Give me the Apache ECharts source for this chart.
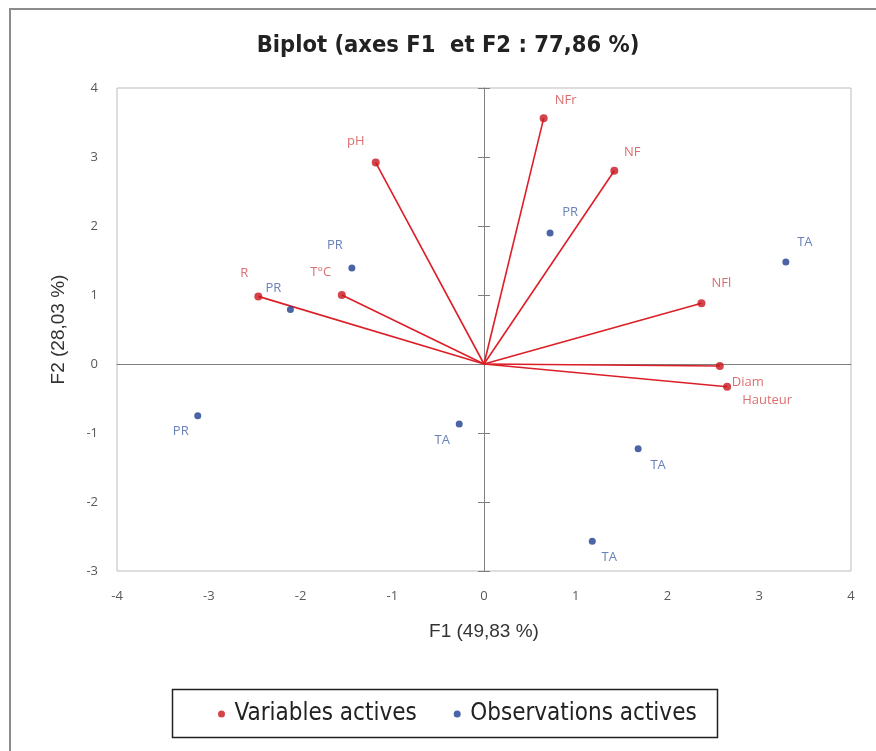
<!DOCTYPE html>
<html>
<head>
<meta charset="utf-8">
<script src="https://cdn.jsdelivr.net/npm/echarts@6/dist/echarts.min.js"></script>
<style>
html,body{margin:0;padding:0;background:#fff;}
#chart{width:876px;height:751px;}
</style>
</head>
<body>
<div id="chart"></div>
<script>
// ---- data ----
const varNames = ['pH', 'R', 'T°C', 'NFr', 'NF', 'NFl', 'Diam', 'Hauteur'];
const varF1 = [-1.18, -2.46, -1.55, 0.65, 1.42, 2.37, 2.57, 2.65];
const varF2 = [2.92, 0.98, 1.00, 3.56, 2.80, 0.88, -0.03, -0.33];
const obsNames = ['PR', 'PR', 'PR', 'TA', 'PR', 'TA', 'TA', 'TA'];
const obsF1 = [-1.44, -2.11, 0.72, 3.29, -3.12, -0.27, 1.68, 1.18];
const obsF2 = [1.39, 0.79, 1.90, 1.48, -0.75, -0.87, -1.23, -2.57];

// ---- label placement (style) ----
const varLabelOffset = [[-20,-21],[-14,-23],[-21,-23],[22,-18],[18,-19],[20,-20],[28,16],[40,14]];
const obsLabelOffset = [[-17,-23],[-17,-21],[20,-21],[19,-20],[-17,16],[-17,16],[20,16],[17,16]];

const RED = '#c8161e', RED_LINE = '#dc1f27', RED_TXT = '#d24a4a';
const BLUE = '#1f3c8f', BLUE_TXT = '#4460a8';
const NARROW = '"Liberation Sans Narrow","DejaVu Sans Condensed","Arial Narrow",sans-serif';

const chart = echarts.init(document.getElementById('chart'), null, {renderer: 'canvas'});

const varData = varNames.map((n, i) => ({
  name: n, value: [varF1[i], varF2[i]],
  label: {offset: varLabelOffset[i]}
}));
const obsData = obsNames.map((n, i) => ({
  name: n, value: [obsF1[i], obsF2[i]],
  label: {offset: obsLabelOffset[i]}
}));
const vecData = varNames.map((n, i) => ({coords: [[0, 0], [varF1[i], varF2[i]]]}));

const axisLabelStyle = {color: '#595959', fontSize: 13, fontFamily: '"Open Sans",sans-serif'};

chart.setOption({
  animation: false,
  backgroundColor: '#fff',
  title: {
    text: 'Biplot (axes F1  et F2 : 77,86 %)',
    left: 443, top: 29, textAlign: 'center',
    textStyle: {fontFamily: NARROW, fontSize: 23.5, fontWeight: 'bold', color: '#222'}
  },
  graphic: [
    {type: 'rect', shape: {x: 10, y: 9, width: 880, height: 760},
     style: {fill: 'none', stroke: '#8c8c8c', lineWidth: 2}, silent: true, z: -1},
    {type: 'rect', shape: {x: 172.5, y: 689.5, width: 545, height: 48},
     style: {fill: 'none', stroke: '#222', lineWidth: 1.5}, silent: true}
  ],
  legend: {
    data: ['Variables actives', 'Observations actives'],
    left: 218, top: 702,
    padding: 0,
    itemGap: 37,
    itemWidth: 16, itemHeight: 7,
    icon: 'circle',
    textStyle: {fontFamily: NARROW, fontSize: 24, color: '#222', lineHeight: 24}
  },
  grid: {left: 117, right: 25, top: 88, bottom: 180, show: true, borderColor: '#bdbdbd', borderWidth: 1},
  xAxis: [
    {type: 'value', min: -4, max: 4, interval: 1, position: 'bottom',
     axisLine: {show: false, onZero: false}, axisTick: {show: false}, splitLine: {show: false},
     axisLabel: Object.assign({margin: 19}, axisLabelStyle),
     name: 'F1 (49,83 %)', nameLocation: 'middle', nameGap: 51,
     nameTextStyle: {fontSize: 19, color: '#333', fontFamily: '"Liberation Sans",Arial,sans-serif'}},
    {type: 'value', min: -4, max: 4, interval: 1, position: 'bottom',
     axisLine: {show: true, onZero: true, onZeroAxisIndex: 0, lineStyle: {color: '#7f7f7f', width: 1}},
     axisTick: {show: false}, axisLabel: {show: false}, splitLine: {show: false}}
  ],
  yAxis: [
    {type: 'value', min: -3, max: 4, interval: 1, position: 'left',
     axisLine: {show: false, onZero: false}, axisTick: {show: false}, splitLine: {show: false},
     axisLabel: Object.assign({margin: 19}, axisLabelStyle),
     name: 'F2 (28,03 %)', nameLocation: 'middle', nameGap: 49, nameRotate: 90,
     nameTextStyle: {fontSize: 19, color: '#333', fontFamily: '"Liberation Sans",Arial,sans-serif'}},
    {type: 'value', min: -3, max: 4, interval: 1, position: 'left',
     axisLine: {show: true, onZero: true, onZeroAxisIndex: 0, lineStyle: {color: '#7f7f7f', width: 1}},
     axisTick: {show: true, inside: false, length: 6, lineStyle: {color: '#7f7f7f'}},
     axisLabel: {show: false}, splitLine: {show: false}},
    {type: 'value', min: -3, max: 4, interval: 1, position: 'left',
     axisLine: {show: false, onZero: true, onZeroAxisIndex: 0},
     axisTick: {show: true, inside: true, length: 6, lineStyle: {color: '#7f7f7f'}},
     axisLabel: {show: false}, splitLine: {show: false}}
  ],
  series: [
    {
      name: 'Variables actives', type: 'scatter', data: varData,
      symbol: 'circle', symbolSize: 8, z: 4,
      itemStyle: {color: RED},
      label: {show: true, position: 'inside', formatter: '{b}', color: RED_TXT,
              fontSize: 13, fontFamily: '"Open Sans",sans-serif'}
    },
    {
      name: 'Observations actives', type: 'scatter', data: obsData,
      symbol: 'circle', symbolSize: 7, z: 4,
      itemStyle: {color: BLUE},
      label: {show: true, position: 'inside', formatter: '{b}', color: BLUE_TXT,
              fontSize: 13, fontFamily: '"Open Sans",sans-serif'}
    },
    {
      name: 'Variables actives', type: 'lines', coordinateSystem: 'cartesian2d',
      data: vecData, z: 3,
      lineStyle: {color: RED_LINE, width: 1.6, opacity: 1}
    }
  ]
});
</script>
</body>
</html>
